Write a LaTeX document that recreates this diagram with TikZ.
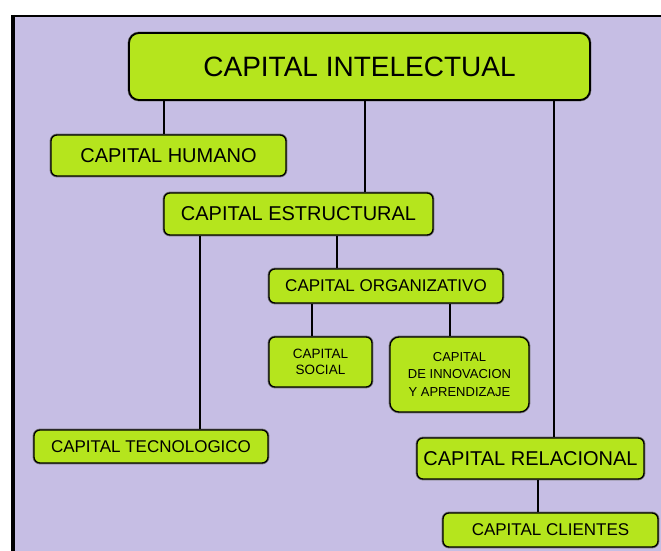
\documentclass[tikz,border=0pt]{standalone}
\usepackage{fontspec}
\setmainfont{Liberation Sans}
\definecolor{panel}{RGB}{198,190,228}
\definecolor{leaf}{RGB}{181,229,29}
\definecolor{rim}{RGB}{120,120,120}
\tikzset{
  cbox/.style={draw=black, line width=1.3pt, fill=leaf, rounded corners=6pt,
    inner sep=0pt, align=center,
    preaction={draw=rim, line width=2.8pt, rounded corners=6pt}},
  heavy/.style={line width=2.6pt},
  light/.style={line width=1.4pt},
}
\begin{document}
\begin{tikzpicture}[x=1pt,y=-1pt]
\useasboundingbox (0,0) rectangle (661,551);
% page panel with its frame
\fill[white] (0,0) rectangle (661,551);
\fill[panel] (13,16) rectangle (661,551);
\draw[line width=4pt] (13,15) -- (13,551);
\draw[line width=2pt] (11,16) -- (661,16);

% boxes
\node[cbox, rounded corners=10pt, line width=1.8pt, minimum width=461pt, minimum height=67pt,
  font=\fontsize{28}{30}\selectfont] (ci) at (359.5,66.5) {CAPITAL INTELECTUAL};
\node[cbox, minimum width=235pt, minimum height=41pt, font=\fontsize{20}{22}\selectfont]
  (ch) at (168.5,155.5) {CAPITAL HUMANO};
\node[cbox, minimum width=269pt, minimum height=42pt, font=\fontsize{20}{22}\selectfont]
  (ce) at (298.5,214) {CAPITAL ESTRUCTURAL};
\node[cbox, minimum width=234pt, minimum height=34pt, font=\fontsize{17}{19}\selectfont]
  (co) at (386,286) {CAPITAL ORGANIZATIVO};
\node[cbox, minimum width=103pt, minimum height=50pt, font=\fontsize{13.5}{16}\selectfont]
  (cs) at (320.5,362) {CAPITAL\\SOCIAL};
\node[cbox, rounded corners=9pt, minimum width=139pt, minimum height=75pt,
  font=\fontsize{13}{17.5}\selectfont]
  (cia) at (459.5,374.5) {CAPITAL\\DE INNOVACION\\Y APRENDIZAJE};
\node[cbox, minimum width=234pt, minimum height=33pt, font=\fontsize{17}{19}\selectfont]
  (ct) at (151,446.5) {CAPITAL TECNOLOGICO};
\node[cbox, minimum width=227pt, minimum height=41pt, font=\fontsize{20}{22}\selectfont]
  (cr) at (530.5,458.5) {CAPITAL RELACIONAL};
\node[cbox, minimum width=215pt, minimum height=34pt, font=\fontsize{17}{19}\selectfont]
  (cc) at (550.5,530) {CAPITAL CLIENTES};

% connectors
\draw[heavy] (ci.south -| 164,0) -- (ch.north -| 164,0);
\draw[heavy] (ci.south -| 365,0) -- (ce.north -| 365,0);
\draw[heavy] (ci.south -| 554,0) -- (cr.north -| 554,0);
\draw[light] (ce.south -| 200,0) -- (ct.north -| 200,0);
\draw[light] (ce.south -| 337,0) -- (co.north -| 337,0);
\draw[light] (co.south -| 312,0) -- (cs.north -| 312,0);
\draw[light] (co.south -| 450,0) -- (cia.north -| 450,0);
\draw[light] (cr.south -| 538,0) -- (cc.north -| 538,0);
\end{tikzpicture}
\end{document}
